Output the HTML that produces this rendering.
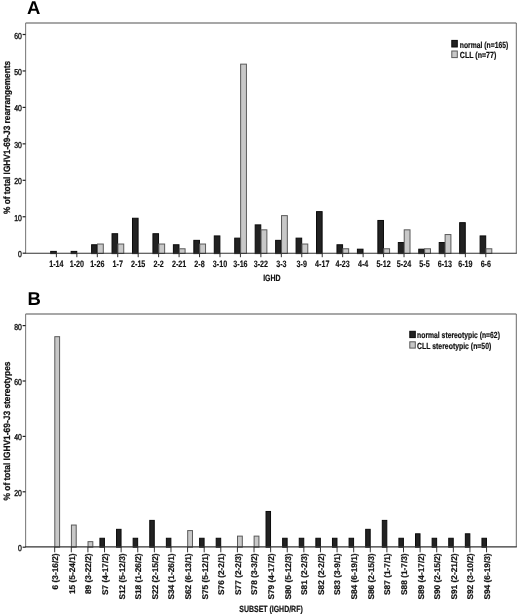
<!DOCTYPE html>
<html><head><meta charset="utf-8"><style>
html,body{margin:0;padding:0;background:#fff;}
svg{display:block;will-change:transform;}
text{font-family:"Liberation Sans",sans-serif;fill:#111;text-rendering:geometricPrecision;}
.r{font-size:8px;}
.xt{font-size:9px;font-weight:bold;stroke:#111;stroke-width:0.2px;}
.rb{font-size:8.3px;font-weight:bold;stroke:#111;stroke-width:0.2px;}
.lb{font-size:9.3px;font-weight:bold;stroke:#111;stroke-width:0.15px;}
.yb{font-size:8.6px;stroke:#111;stroke-width:0.4px;}
.b{font-size:8.8px;font-weight:bold;stroke:#111;stroke-width:0.2px;}
.yt{font-size:9.2px;font-weight:bold;stroke:#111;stroke-width:0.25px;}
.big{font-size:18.5px;font-weight:bold;fill:#000;}
</style></head><body>
<svg width="520" height="616" viewBox="0 0 520 616">
<rect x="0" y="0" width="520" height="616" fill="#fff"/>
<line x1="25.6" y1="23.0" x2="516.3" y2="23.0" stroke="#8a8a8a" stroke-width="1.5"/>
<line x1="25.6" y1="23.0" x2="25.6" y2="253.3" stroke="#808080" stroke-width="1.1"/>
<line x1="516.3" y1="23.0" x2="516.3" y2="253.3" stroke="#6a6a6a" stroke-width="1.0"/>
<line x1="22.6" y1="253.20" x2="25.6" y2="253.20" stroke="#222" stroke-width="1.2"/>
<text x="17.97" y="257.20" textLength="3.83" lengthAdjust="spacingAndGlyphs" class="yb">0</text>
<line x1="22.6" y1="216.75" x2="25.6" y2="216.75" stroke="#222" stroke-width="1.2"/>
<text x="14.15" y="220.75" textLength="7.65" lengthAdjust="spacingAndGlyphs" class="yb">10</text>
<line x1="22.6" y1="180.30" x2="25.6" y2="180.30" stroke="#222" stroke-width="1.2"/>
<text x="14.15" y="184.30" textLength="7.65" lengthAdjust="spacingAndGlyphs" class="yb">20</text>
<line x1="22.6" y1="143.85" x2="25.6" y2="143.85" stroke="#222" stroke-width="1.2"/>
<text x="14.15" y="147.85" textLength="7.65" lengthAdjust="spacingAndGlyphs" class="yb">30</text>
<line x1="22.6" y1="107.40" x2="25.6" y2="107.40" stroke="#222" stroke-width="1.2"/>
<text x="14.15" y="111.40" textLength="7.65" lengthAdjust="spacingAndGlyphs" class="yb">40</text>
<line x1="22.6" y1="70.95" x2="25.6" y2="70.95" stroke="#222" stroke-width="1.2"/>
<text x="14.15" y="74.95" textLength="7.65" lengthAdjust="spacingAndGlyphs" class="yb">50</text>
<line x1="22.6" y1="34.50" x2="25.6" y2="34.50" stroke="#222" stroke-width="1.2"/>
<text x="14.15" y="38.50" textLength="7.65" lengthAdjust="spacingAndGlyphs" class="yb">60</text>
<rect x="50.70" y="251.39" width="5.6" height="2.21" fill="#222" stroke="#0a0a0a" stroke-width="1"/>
<line x1="56.40" y1="253.3" x2="56.40" y2="257.2" stroke="#333" stroke-width="1"/>
<text x="49.23" y="266.5" textLength="14.33" lengthAdjust="spacingAndGlyphs" class="lb">1-14</text>
<rect x="71.15" y="251.39" width="5.6" height="2.21" fill="#222" stroke="#0a0a0a" stroke-width="1"/>
<line x1="76.85" y1="253.3" x2="76.85" y2="257.2" stroke="#333" stroke-width="1"/>
<text x="69.68" y="266.5" textLength="14.33" lengthAdjust="spacingAndGlyphs" class="lb">1-20</text>
<rect x="91.60" y="244.76" width="5.6" height="8.84" fill="#222" stroke="#0a0a0a" stroke-width="1"/>
<rect x="97.50" y="244.03" width="5.8" height="9.47" fill="#c8c8c8" stroke="#5a5a5a" stroke-width="1"/>
<line x1="97.30" y1="253.3" x2="97.30" y2="257.2" stroke="#333" stroke-width="1"/>
<text x="90.13" y="266.5" textLength="14.33" lengthAdjust="spacingAndGlyphs" class="lb">1-26</text>
<rect x="112.04" y="233.72" width="5.6" height="19.88" fill="#222" stroke="#0a0a0a" stroke-width="1"/>
<rect x="117.94" y="244.03" width="5.8" height="9.47" fill="#c8c8c8" stroke="#5a5a5a" stroke-width="1"/>
<line x1="117.74" y1="253.3" x2="117.74" y2="257.2" stroke="#333" stroke-width="1"/>
<text x="112.57" y="266.5" textLength="10.35" lengthAdjust="spacingAndGlyphs" class="lb">1-7</text>
<rect x="132.49" y="218.25" width="5.6" height="35.35" fill="#222" stroke="#0a0a0a" stroke-width="1"/>
<line x1="138.19" y1="253.3" x2="138.19" y2="257.2" stroke="#333" stroke-width="1"/>
<text x="131.03" y="266.5" textLength="14.33" lengthAdjust="spacingAndGlyphs" class="lb">2-15</text>
<rect x="152.94" y="233.72" width="5.6" height="19.88" fill="#222" stroke="#0a0a0a" stroke-width="1"/>
<rect x="158.84" y="244.03" width="5.8" height="9.47" fill="#c8c8c8" stroke="#5a5a5a" stroke-width="1"/>
<line x1="158.64" y1="253.3" x2="158.64" y2="257.2" stroke="#333" stroke-width="1"/>
<text x="153.47" y="266.5" textLength="10.35" lengthAdjust="spacingAndGlyphs" class="lb">2-2</text>
<rect x="173.39" y="244.76" width="5.6" height="8.84" fill="#222" stroke="#0a0a0a" stroke-width="1"/>
<rect x="179.29" y="248.77" width="5.8" height="4.73" fill="#c8c8c8" stroke="#5a5a5a" stroke-width="1"/>
<line x1="179.09" y1="253.3" x2="179.09" y2="257.2" stroke="#333" stroke-width="1"/>
<text x="171.92" y="266.5" textLength="14.33" lengthAdjust="spacingAndGlyphs" class="lb">2-21</text>
<rect x="193.84" y="240.35" width="5.6" height="13.25" fill="#222" stroke="#0a0a0a" stroke-width="1"/>
<rect x="199.74" y="244.03" width="5.8" height="9.47" fill="#c8c8c8" stroke="#5a5a5a" stroke-width="1"/>
<line x1="199.54" y1="253.3" x2="199.54" y2="257.2" stroke="#333" stroke-width="1"/>
<text x="194.36" y="266.5" textLength="10.35" lengthAdjust="spacingAndGlyphs" class="lb">2-8</text>
<rect x="214.28" y="235.93" width="5.6" height="17.67" fill="#222" stroke="#0a0a0a" stroke-width="1"/>
<line x1="219.98" y1="253.3" x2="219.98" y2="257.2" stroke="#333" stroke-width="1"/>
<text x="212.82" y="266.5" textLength="14.33" lengthAdjust="spacingAndGlyphs" class="lb">3-10</text>
<rect x="234.73" y="238.14" width="5.6" height="15.46" fill="#222" stroke="#0a0a0a" stroke-width="1"/>
<rect x="240.63" y="64.15" width="5.8" height="189.35" fill="#c8c8c8" stroke="#5a5a5a" stroke-width="1"/>
<line x1="240.43" y1="253.3" x2="240.43" y2="257.2" stroke="#333" stroke-width="1"/>
<text x="233.27" y="266.5" textLength="14.33" lengthAdjust="spacingAndGlyphs" class="lb">3-16</text>
<rect x="255.18" y="224.88" width="5.6" height="28.72" fill="#222" stroke="#0a0a0a" stroke-width="1"/>
<rect x="261.08" y="229.83" width="5.8" height="23.67" fill="#c8c8c8" stroke="#5a5a5a" stroke-width="1"/>
<line x1="260.88" y1="253.3" x2="260.88" y2="257.2" stroke="#333" stroke-width="1"/>
<text x="253.71" y="266.5" textLength="14.33" lengthAdjust="spacingAndGlyphs" class="lb">3-22</text>
<rect x="275.63" y="240.35" width="5.6" height="13.25" fill="#222" stroke="#0a0a0a" stroke-width="1"/>
<rect x="281.53" y="215.63" width="5.8" height="37.87" fill="#c8c8c8" stroke="#5a5a5a" stroke-width="1"/>
<line x1="281.33" y1="253.3" x2="281.33" y2="257.2" stroke="#333" stroke-width="1"/>
<text x="276.15" y="266.5" textLength="10.35" lengthAdjust="spacingAndGlyphs" class="lb">3-3</text>
<rect x="296.08" y="238.14" width="5.6" height="15.46" fill="#222" stroke="#0a0a0a" stroke-width="1"/>
<rect x="301.98" y="244.03" width="5.8" height="9.47" fill="#c8c8c8" stroke="#5a5a5a" stroke-width="1"/>
<line x1="301.78" y1="253.3" x2="301.78" y2="257.2" stroke="#333" stroke-width="1"/>
<text x="296.60" y="266.5" textLength="10.35" lengthAdjust="spacingAndGlyphs" class="lb">3-9</text>
<rect x="316.52" y="211.63" width="5.6" height="41.97" fill="#222" stroke="#0a0a0a" stroke-width="1"/>
<line x1="322.22" y1="253.3" x2="322.22" y2="257.2" stroke="#333" stroke-width="1"/>
<text x="315.06" y="266.5" textLength="14.33" lengthAdjust="spacingAndGlyphs" class="lb">4-17</text>
<rect x="336.97" y="244.76" width="5.6" height="8.84" fill="#222" stroke="#0a0a0a" stroke-width="1"/>
<rect x="342.87" y="248.77" width="5.8" height="4.73" fill="#c8c8c8" stroke="#5a5a5a" stroke-width="1"/>
<line x1="342.67" y1="253.3" x2="342.67" y2="257.2" stroke="#333" stroke-width="1"/>
<text x="335.51" y="266.5" textLength="14.33" lengthAdjust="spacingAndGlyphs" class="lb">4-23</text>
<rect x="357.42" y="249.18" width="5.6" height="4.42" fill="#222" stroke="#0a0a0a" stroke-width="1"/>
<line x1="363.12" y1="253.3" x2="363.12" y2="257.2" stroke="#333" stroke-width="1"/>
<text x="357.95" y="266.5" textLength="10.35" lengthAdjust="spacingAndGlyphs" class="lb">4-4</text>
<rect x="377.87" y="220.46" width="5.6" height="33.14" fill="#222" stroke="#0a0a0a" stroke-width="1"/>
<rect x="383.77" y="248.77" width="5.8" height="4.73" fill="#c8c8c8" stroke="#5a5a5a" stroke-width="1"/>
<line x1="383.57" y1="253.3" x2="383.57" y2="257.2" stroke="#333" stroke-width="1"/>
<text x="376.40" y="266.5" textLength="14.33" lengthAdjust="spacingAndGlyphs" class="lb">5-12</text>
<rect x="398.32" y="242.55" width="5.6" height="11.05" fill="#222" stroke="#0a0a0a" stroke-width="1"/>
<rect x="404.22" y="229.83" width="5.8" height="23.67" fill="#c8c8c8" stroke="#5a5a5a" stroke-width="1"/>
<line x1="404.02" y1="253.3" x2="404.02" y2="257.2" stroke="#333" stroke-width="1"/>
<text x="396.85" y="266.5" textLength="14.33" lengthAdjust="spacingAndGlyphs" class="lb">5-24</text>
<rect x="418.76" y="249.18" width="5.6" height="4.42" fill="#222" stroke="#0a0a0a" stroke-width="1"/>
<rect x="424.66" y="248.77" width="5.8" height="4.73" fill="#c8c8c8" stroke="#5a5a5a" stroke-width="1"/>
<line x1="424.46" y1="253.3" x2="424.46" y2="257.2" stroke="#333" stroke-width="1"/>
<text x="419.29" y="266.5" textLength="10.35" lengthAdjust="spacingAndGlyphs" class="lb">5-5</text>
<rect x="439.21" y="242.55" width="5.6" height="11.05" fill="#222" stroke="#0a0a0a" stroke-width="1"/>
<rect x="445.11" y="234.56" width="5.8" height="18.94" fill="#c8c8c8" stroke="#5a5a5a" stroke-width="1"/>
<line x1="444.91" y1="253.3" x2="444.91" y2="257.2" stroke="#333" stroke-width="1"/>
<text x="437.75" y="266.5" textLength="14.33" lengthAdjust="spacingAndGlyphs" class="lb">6-13</text>
<rect x="459.66" y="222.67" width="5.6" height="30.93" fill="#222" stroke="#0a0a0a" stroke-width="1"/>
<line x1="465.36" y1="253.3" x2="465.36" y2="257.2" stroke="#333" stroke-width="1"/>
<text x="458.19" y="266.5" textLength="14.33" lengthAdjust="spacingAndGlyphs" class="lb">6-19</text>
<rect x="480.11" y="235.93" width="5.6" height="17.67" fill="#222" stroke="#0a0a0a" stroke-width="1"/>
<rect x="486.01" y="248.77" width="5.8" height="4.73" fill="#c8c8c8" stroke="#5a5a5a" stroke-width="1"/>
<line x1="485.81" y1="253.3" x2="485.81" y2="257.2" stroke="#333" stroke-width="1"/>
<text x="480.63" y="266.5" textLength="10.35" lengthAdjust="spacingAndGlyphs" class="lb">6-6</text>
<line x1="25.1" y1="253.3" x2="516.8" y2="253.3" stroke="#333" stroke-width="1.1"/>
<text x="263.2" y="280.7" textLength="17.4" lengthAdjust="spacingAndGlyphs" class="xt">IGHD</text>
<text transform="translate(10.3,213.9) rotate(-90)" x="0" y="0" textLength="153" lengthAdjust="spacingAndGlyphs" class="yt">% of total IGHV1-69-J3 rearrangements</text>
<rect x="451.8" y="40.4" width="5.5" height="6.6" fill="#222" stroke="#0a0a0a" stroke-width="1"/>
<rect x="451.8" y="51.0" width="5.5" height="6.6" fill="#c8c8c8" stroke="#5a5a5a" stroke-width="1"/>
<text x="459.8" y="47.6" textLength="48.4" lengthAdjust="spacingAndGlyphs" class="b">normal (n=165)</text>
<text x="459.8" y="58.1" textLength="36.5" lengthAdjust="spacingAndGlyphs" class="b">CLL (n=77)</text>
<text x="27.1" y="13.7" class="big">A</text>
<line x1="25.6" y1="314.0" x2="516.3" y2="314.0" stroke="#8a8a8a" stroke-width="1.5"/>
<line x1="25.6" y1="314.0" x2="25.6" y2="546.9" stroke="#808080" stroke-width="1.1"/>
<line x1="516.3" y1="314.0" x2="516.3" y2="546.9" stroke="#6a6a6a" stroke-width="1.0"/>
<line x1="22.6" y1="547.20" x2="25.6" y2="547.20" stroke="#222" stroke-width="1.2"/>
<text x="17.97" y="551.20" textLength="3.83" lengthAdjust="spacingAndGlyphs" class="yb">0</text>
<line x1="22.6" y1="491.80" x2="25.6" y2="491.80" stroke="#222" stroke-width="1.2"/>
<text x="14.15" y="495.80" textLength="7.65" lengthAdjust="spacingAndGlyphs" class="yb">20</text>
<line x1="22.6" y1="436.40" x2="25.6" y2="436.40" stroke="#222" stroke-width="1.2"/>
<text x="14.15" y="440.40" textLength="7.65" lengthAdjust="spacingAndGlyphs" class="yb">40</text>
<line x1="22.6" y1="381.00" x2="25.6" y2="381.00" stroke="#222" stroke-width="1.2"/>
<text x="14.15" y="385.00" textLength="7.65" lengthAdjust="spacingAndGlyphs" class="yb">60</text>
<line x1="22.6" y1="325.60" x2="25.6" y2="325.60" stroke="#222" stroke-width="1.2"/>
<text x="14.15" y="329.60" textLength="7.65" lengthAdjust="spacingAndGlyphs" class="yb">80</text>
<rect x="54.80" y="336.68" width="4.8" height="210.52" fill="#c8c8c8" stroke="#5a5a5a" stroke-width="1"/>
<line x1="54.70" y1="546.9" x2="54.70" y2="552.3" stroke="#333" stroke-width="1"/>
<text transform="translate(58.10,553.4) rotate(-90)" x="0" y="0" text-anchor="end" class="rb">6 (3-16/2)</text>
<rect x="71.41" y="525.04" width="4.8" height="22.16" fill="#c8c8c8" stroke="#5a5a5a" stroke-width="1"/>
<line x1="71.31" y1="546.9" x2="71.31" y2="552.3" stroke="#333" stroke-width="1"/>
<text transform="translate(74.71,553.4) rotate(-90)" x="0" y="0" text-anchor="end" class="rb">15 (5-24/1)</text>
<rect x="88.02" y="541.66" width="4.8" height="5.54" fill="#c8c8c8" stroke="#5a5a5a" stroke-width="1"/>
<line x1="87.92" y1="546.9" x2="87.92" y2="552.3" stroke="#333" stroke-width="1"/>
<text transform="translate(91.32,553.4) rotate(-90)" x="0" y="0" text-anchor="end" class="rb">89 (3-22/2)</text>
<rect x="99.93" y="538.26" width="4.5" height="8.94" fill="#222" stroke="#0a0a0a" stroke-width="1"/>
<line x1="104.53" y1="546.9" x2="104.53" y2="552.3" stroke="#333" stroke-width="1"/>
<text transform="translate(107.93,553.4) rotate(-90)" x="0" y="0" text-anchor="end" class="rb">S7 (4-17/2)</text>
<rect x="116.54" y="529.33" width="4.5" height="17.87" fill="#222" stroke="#0a0a0a" stroke-width="1"/>
<line x1="121.14" y1="546.9" x2="121.14" y2="552.3" stroke="#333" stroke-width="1"/>
<text transform="translate(124.54,553.4) rotate(-90)" x="0" y="0" text-anchor="end" class="rb">S12 (5-12/3)</text>
<rect x="133.15" y="538.26" width="4.5" height="8.94" fill="#222" stroke="#0a0a0a" stroke-width="1"/>
<line x1="137.75" y1="546.9" x2="137.75" y2="552.3" stroke="#333" stroke-width="1"/>
<text transform="translate(141.15,553.4) rotate(-90)" x="0" y="0" text-anchor="end" class="rb">S18 (1-26/2)</text>
<rect x="149.76" y="520.39" width="4.5" height="26.81" fill="#222" stroke="#0a0a0a" stroke-width="1"/>
<line x1="154.36" y1="546.9" x2="154.36" y2="552.3" stroke="#333" stroke-width="1"/>
<text transform="translate(157.76,553.4) rotate(-90)" x="0" y="0" text-anchor="end" class="rb">S22 (2-15/2)</text>
<rect x="166.37" y="538.26" width="4.5" height="8.94" fill="#222" stroke="#0a0a0a" stroke-width="1"/>
<line x1="170.97" y1="546.9" x2="170.97" y2="552.3" stroke="#333" stroke-width="1"/>
<text transform="translate(174.37,553.4) rotate(-90)" x="0" y="0" text-anchor="end" class="rb">S34 (1-26/1)</text>
<rect x="187.68" y="530.58" width="4.8" height="16.62" fill="#c8c8c8" stroke="#5a5a5a" stroke-width="1"/>
<line x1="187.58" y1="546.9" x2="187.58" y2="552.3" stroke="#333" stroke-width="1"/>
<text transform="translate(190.98,553.4) rotate(-90)" x="0" y="0" text-anchor="end" class="rb">S62 (6-13/1)</text>
<rect x="199.59" y="538.26" width="4.5" height="8.94" fill="#222" stroke="#0a0a0a" stroke-width="1"/>
<line x1="204.19" y1="546.9" x2="204.19" y2="552.3" stroke="#333" stroke-width="1"/>
<text transform="translate(207.59,553.4) rotate(-90)" x="0" y="0" text-anchor="end" class="rb">S75 (5-12/1)</text>
<rect x="216.20" y="538.26" width="4.5" height="8.94" fill="#222" stroke="#0a0a0a" stroke-width="1"/>
<line x1="220.80" y1="546.9" x2="220.80" y2="552.3" stroke="#333" stroke-width="1"/>
<text transform="translate(224.20,553.4) rotate(-90)" x="0" y="0" text-anchor="end" class="rb">S76 (2-2/1)</text>
<rect x="237.51" y="536.12" width="4.8" height="11.08" fill="#c8c8c8" stroke="#5a5a5a" stroke-width="1"/>
<line x1="237.41" y1="546.9" x2="237.41" y2="552.3" stroke="#333" stroke-width="1"/>
<text transform="translate(240.81,553.4) rotate(-90)" x="0" y="0" text-anchor="end" class="rb">S77 (2-2/3)</text>
<rect x="254.12" y="536.12" width="4.8" height="11.08" fill="#c8c8c8" stroke="#5a5a5a" stroke-width="1"/>
<line x1="254.02" y1="546.9" x2="254.02" y2="552.3" stroke="#333" stroke-width="1"/>
<text transform="translate(257.42,553.4) rotate(-90)" x="0" y="0" text-anchor="end" class="rb">S78 (3-3/2)</text>
<rect x="266.03" y="511.46" width="4.5" height="35.74" fill="#222" stroke="#0a0a0a" stroke-width="1"/>
<line x1="270.63" y1="546.9" x2="270.63" y2="552.3" stroke="#333" stroke-width="1"/>
<text transform="translate(274.03,553.4) rotate(-90)" x="0" y="0" text-anchor="end" class="rb">S79 (4-17/2)</text>
<rect x="282.64" y="538.26" width="4.5" height="8.94" fill="#222" stroke="#0a0a0a" stroke-width="1"/>
<line x1="287.24" y1="546.9" x2="287.24" y2="552.3" stroke="#333" stroke-width="1"/>
<text transform="translate(290.64,553.4) rotate(-90)" x="0" y="0" text-anchor="end" class="rb">S80 (5-12/3)</text>
<rect x="299.25" y="538.26" width="4.5" height="8.94" fill="#222" stroke="#0a0a0a" stroke-width="1"/>
<line x1="303.85" y1="546.9" x2="303.85" y2="552.3" stroke="#333" stroke-width="1"/>
<text transform="translate(307.25,553.4) rotate(-90)" x="0" y="0" text-anchor="end" class="rb">S81 (2-2/3)</text>
<rect x="315.86" y="538.26" width="4.5" height="8.94" fill="#222" stroke="#0a0a0a" stroke-width="1"/>
<line x1="320.46" y1="546.9" x2="320.46" y2="552.3" stroke="#333" stroke-width="1"/>
<text transform="translate(323.86,553.4) rotate(-90)" x="0" y="0" text-anchor="end" class="rb">S82 (2-2/2)</text>
<rect x="332.47" y="538.26" width="4.5" height="8.94" fill="#222" stroke="#0a0a0a" stroke-width="1"/>
<line x1="337.07" y1="546.9" x2="337.07" y2="552.3" stroke="#333" stroke-width="1"/>
<text transform="translate(340.47,553.4) rotate(-90)" x="0" y="0" text-anchor="end" class="rb">S83 (3-9/1)</text>
<rect x="349.08" y="538.26" width="4.5" height="8.94" fill="#222" stroke="#0a0a0a" stroke-width="1"/>
<line x1="353.68" y1="546.9" x2="353.68" y2="552.3" stroke="#333" stroke-width="1"/>
<text transform="translate(357.08,553.4) rotate(-90)" x="0" y="0" text-anchor="end" class="rb">S84 (6-19/1)</text>
<rect x="365.69" y="529.33" width="4.5" height="17.87" fill="#222" stroke="#0a0a0a" stroke-width="1"/>
<line x1="370.29" y1="546.9" x2="370.29" y2="552.3" stroke="#333" stroke-width="1"/>
<text transform="translate(373.69,553.4) rotate(-90)" x="0" y="0" text-anchor="end" class="rb">S86 (2-15/3)</text>
<rect x="382.30" y="520.39" width="4.5" height="26.81" fill="#222" stroke="#0a0a0a" stroke-width="1"/>
<line x1="386.90" y1="546.9" x2="386.90" y2="552.3" stroke="#333" stroke-width="1"/>
<text transform="translate(390.30,553.4) rotate(-90)" x="0" y="0" text-anchor="end" class="rb">S87 (1-7/1)</text>
<rect x="398.91" y="538.26" width="4.5" height="8.94" fill="#222" stroke="#0a0a0a" stroke-width="1"/>
<line x1="403.51" y1="546.9" x2="403.51" y2="552.3" stroke="#333" stroke-width="1"/>
<text transform="translate(406.91,553.4) rotate(-90)" x="0" y="0" text-anchor="end" class="rb">S88 (1-7/3)</text>
<rect x="415.52" y="533.80" width="4.5" height="13.40" fill="#222" stroke="#0a0a0a" stroke-width="1"/>
<line x1="420.12" y1="546.9" x2="420.12" y2="552.3" stroke="#333" stroke-width="1"/>
<text transform="translate(423.52,553.4) rotate(-90)" x="0" y="0" text-anchor="end" class="rb">S89 (4-17/2)</text>
<rect x="432.13" y="538.26" width="4.5" height="8.94" fill="#222" stroke="#0a0a0a" stroke-width="1"/>
<line x1="436.73" y1="546.9" x2="436.73" y2="552.3" stroke="#333" stroke-width="1"/>
<text transform="translate(440.13,553.4) rotate(-90)" x="0" y="0" text-anchor="end" class="rb">S90 (2-15/2)</text>
<rect x="448.74" y="538.26" width="4.5" height="8.94" fill="#222" stroke="#0a0a0a" stroke-width="1"/>
<line x1="453.34" y1="546.9" x2="453.34" y2="552.3" stroke="#333" stroke-width="1"/>
<text transform="translate(456.74,553.4) rotate(-90)" x="0" y="0" text-anchor="end" class="rb">S91 (2-21/2)</text>
<rect x="465.35" y="533.80" width="4.5" height="13.40" fill="#222" stroke="#0a0a0a" stroke-width="1"/>
<line x1="469.95" y1="546.9" x2="469.95" y2="552.3" stroke="#333" stroke-width="1"/>
<text transform="translate(473.35,553.4) rotate(-90)" x="0" y="0" text-anchor="end" class="rb">S92 (3-10/2)</text>
<rect x="481.96" y="538.26" width="4.5" height="8.94" fill="#222" stroke="#0a0a0a" stroke-width="1"/>
<line x1="486.56" y1="546.9" x2="486.56" y2="552.3" stroke="#333" stroke-width="1"/>
<text transform="translate(489.96,553.4) rotate(-90)" x="0" y="0" text-anchor="end" class="rb">S94 (6-19/3)</text>
<line x1="25.1" y1="546.9" x2="516.8" y2="546.9" stroke="#333" stroke-width="1.1"/>
<text x="239.3" y="611.7" textLength="63.4" lengthAdjust="spacingAndGlyphs" class="xt">SUBSET (IGHD/RF)</text>
<text transform="translate(10.3,500.5) rotate(-90)" x="0" y="0" textLength="139" lengthAdjust="spacingAndGlyphs" class="yt">% of total IGHV1-69-J3 stereotypes</text>
<rect x="409.8" y="331.3" width="5.5" height="6.3" fill="#222" stroke="#0a0a0a" stroke-width="1"/>
<rect x="409.8" y="341.8" width="5.5" height="6.3" fill="#c8c8c8" stroke="#5a5a5a" stroke-width="1"/>
<text x="417.1" y="338.1" textLength="82.8" lengthAdjust="spacingAndGlyphs" class="b">normal stereotypic (n=62)</text>
<text x="417.1" y="348.6" textLength="74.2" lengthAdjust="spacingAndGlyphs" class="b">CLL stereotypic (n=50)</text>
<text x="27.4" y="305.3" class="big">B</text>
</svg>
</body></html>
